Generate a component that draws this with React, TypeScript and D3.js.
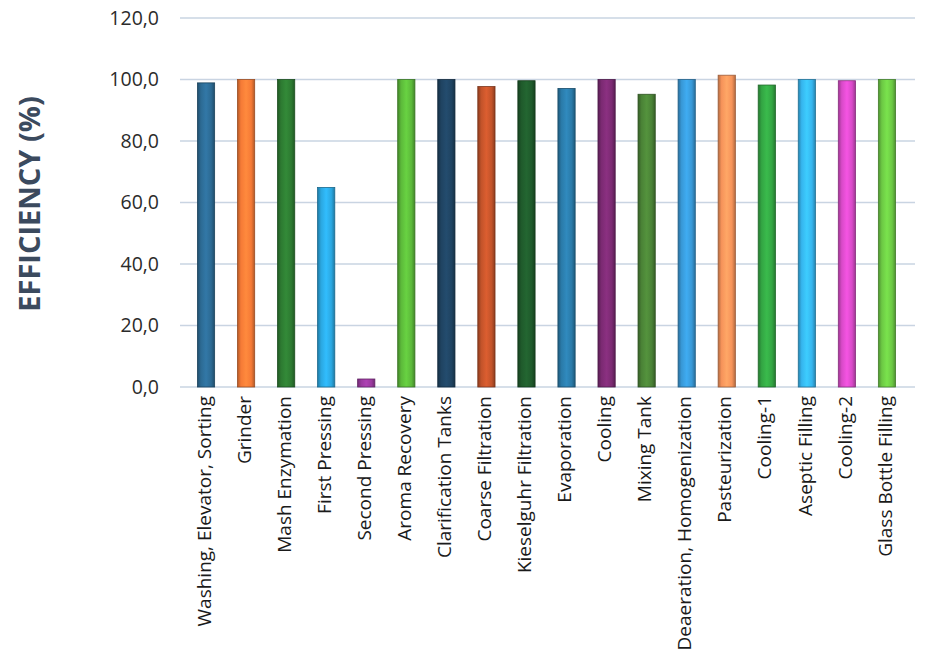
import React from "react";
import * as d3 from "d3";

const categories = [
  "Washing, Elevator, Sorting",
  "Grinder",
  "Mash Enzymation",
  "First Pressing",
  "Second Pressing",
  "Aroma Recovery",
  "Clarification Tanks",
  "Coarse Filtration",
  "Kieselguhr Filtration",
  "Evaporation",
  "Cooling",
  "Mixing Tank",
  "Deaeration, Homogenization",
  "Pasteurization",
  "Cooling-1",
  "Aseptic Filling",
  "Cooling-2",
  "Glass Bottle Filling",
];

const efficiency = [98.9, 100, 100, 64.9, 2.6, 100, 100, 97.7, 99.6, 97.1, 100, 95.2, 100, 101.4, 98.2, 100, 99.6, 100];

const barColors = [
  "#2c6a93", "#f57a36", "#2d7a31", "#2ba7e0", "#9a3a9f", "#5cb93a",
  "#1f4361", "#c2532a", "#1f5a2b", "#2a7aa8", "#7b2a72", "#4a8236",
  "#3898d6", "#f6935a", "#33a543", "#36b5ee", "#d84ac8", "#6cc844",
];

const yTicks = [0, 20, 40, 60, 80, 100, 120];

const W = 935;
const H = 667;

export default function App() {
  const x = d3.scaleBand<string>().domain(categories).range([186, 907]).paddingInner(0.57).paddingOuter(0.285);
  const y = d3.scaleLinear().domain([0, 120]).range([387, 18]);
  const fmt = (v: number) => v.toFixed(1).replace(".", ",");
  const font = "'Open Sans', 'Liberation Sans', sans-serif";

  return (
    <svg width={W} height={H} style={{ position: "absolute", left: 0, top: 0, background: "#fff" }}>
      <defs>
        {barColors.map((c, i) => {
          const col = d3.color(c)!;
          const dark = d3.color(c)!.darker(0.9).formatHex();
          const light = d3.color(c)!.brighter(0.35).formatHex();
          return (
            <linearGradient key={i} id={`g${i}`} x1="0" x2="1" y1="0" y2="0">
              <stop offset="0" stopColor={dark} />
              <stop offset="0.2" stopColor={col.formatHex()} />
              <stop offset="0.5" stopColor={light} />
              <stop offset="0.8" stopColor={col.formatHex()} />
              <stop offset="1" stopColor={dark} />
            </linearGradient>
          );
        })}
      </defs>
      {yTicks.map((t) => (
        <g key={t}>
          <line x1={180} x2={915} y1={y(t)} y2={y(t)} stroke="#c9d4e2" strokeWidth={1.5} />
          <text x={159} y={y(t)} dy="0.35em" textAnchor="end" fontFamily={font} fontSize={19.5} fill="#2b2b2b">
            {fmt(t)}
          </text>
        </g>
      ))}
      {categories.map((c, i) => {
        const bx = x(c)!;
        const bw = x.bandwidth();
        const top = y(efficiency[i]);
        return (
          <rect
            key={c}
            x={bx}
            y={top}
            width={bw}
            height={y(0) - top}
            fill={`url(#g${i})`}
            stroke={d3.color(barColors[i])!.darker(1.3).formatHex()}
            strokeWidth={0.8}
          />
        );
      })}
      {categories.map((c) => {
        const cx = x(c)! + x.bandwidth() / 2;
        return (
          <text
            key={c}
            transform={`translate(${cx - 2},396) rotate(-90)`}
            dy="0.35em"
            textAnchor="end"
            fontFamily={font}
            fontSize={19}
            fill="#1a1a1a"
          >
            {c}
          </text>
        );
      })}
      <text
        transform={`translate(30,204) rotate(-90)`}
        dy="0.35em"
        textAnchor="middle"
        fontFamily={font}
        fontWeight="bold"
        fontSize={29}
        fill="#3b4a5e"
      >
        EFFICIENCY (%)
      </text>
    </svg>
  );
}
